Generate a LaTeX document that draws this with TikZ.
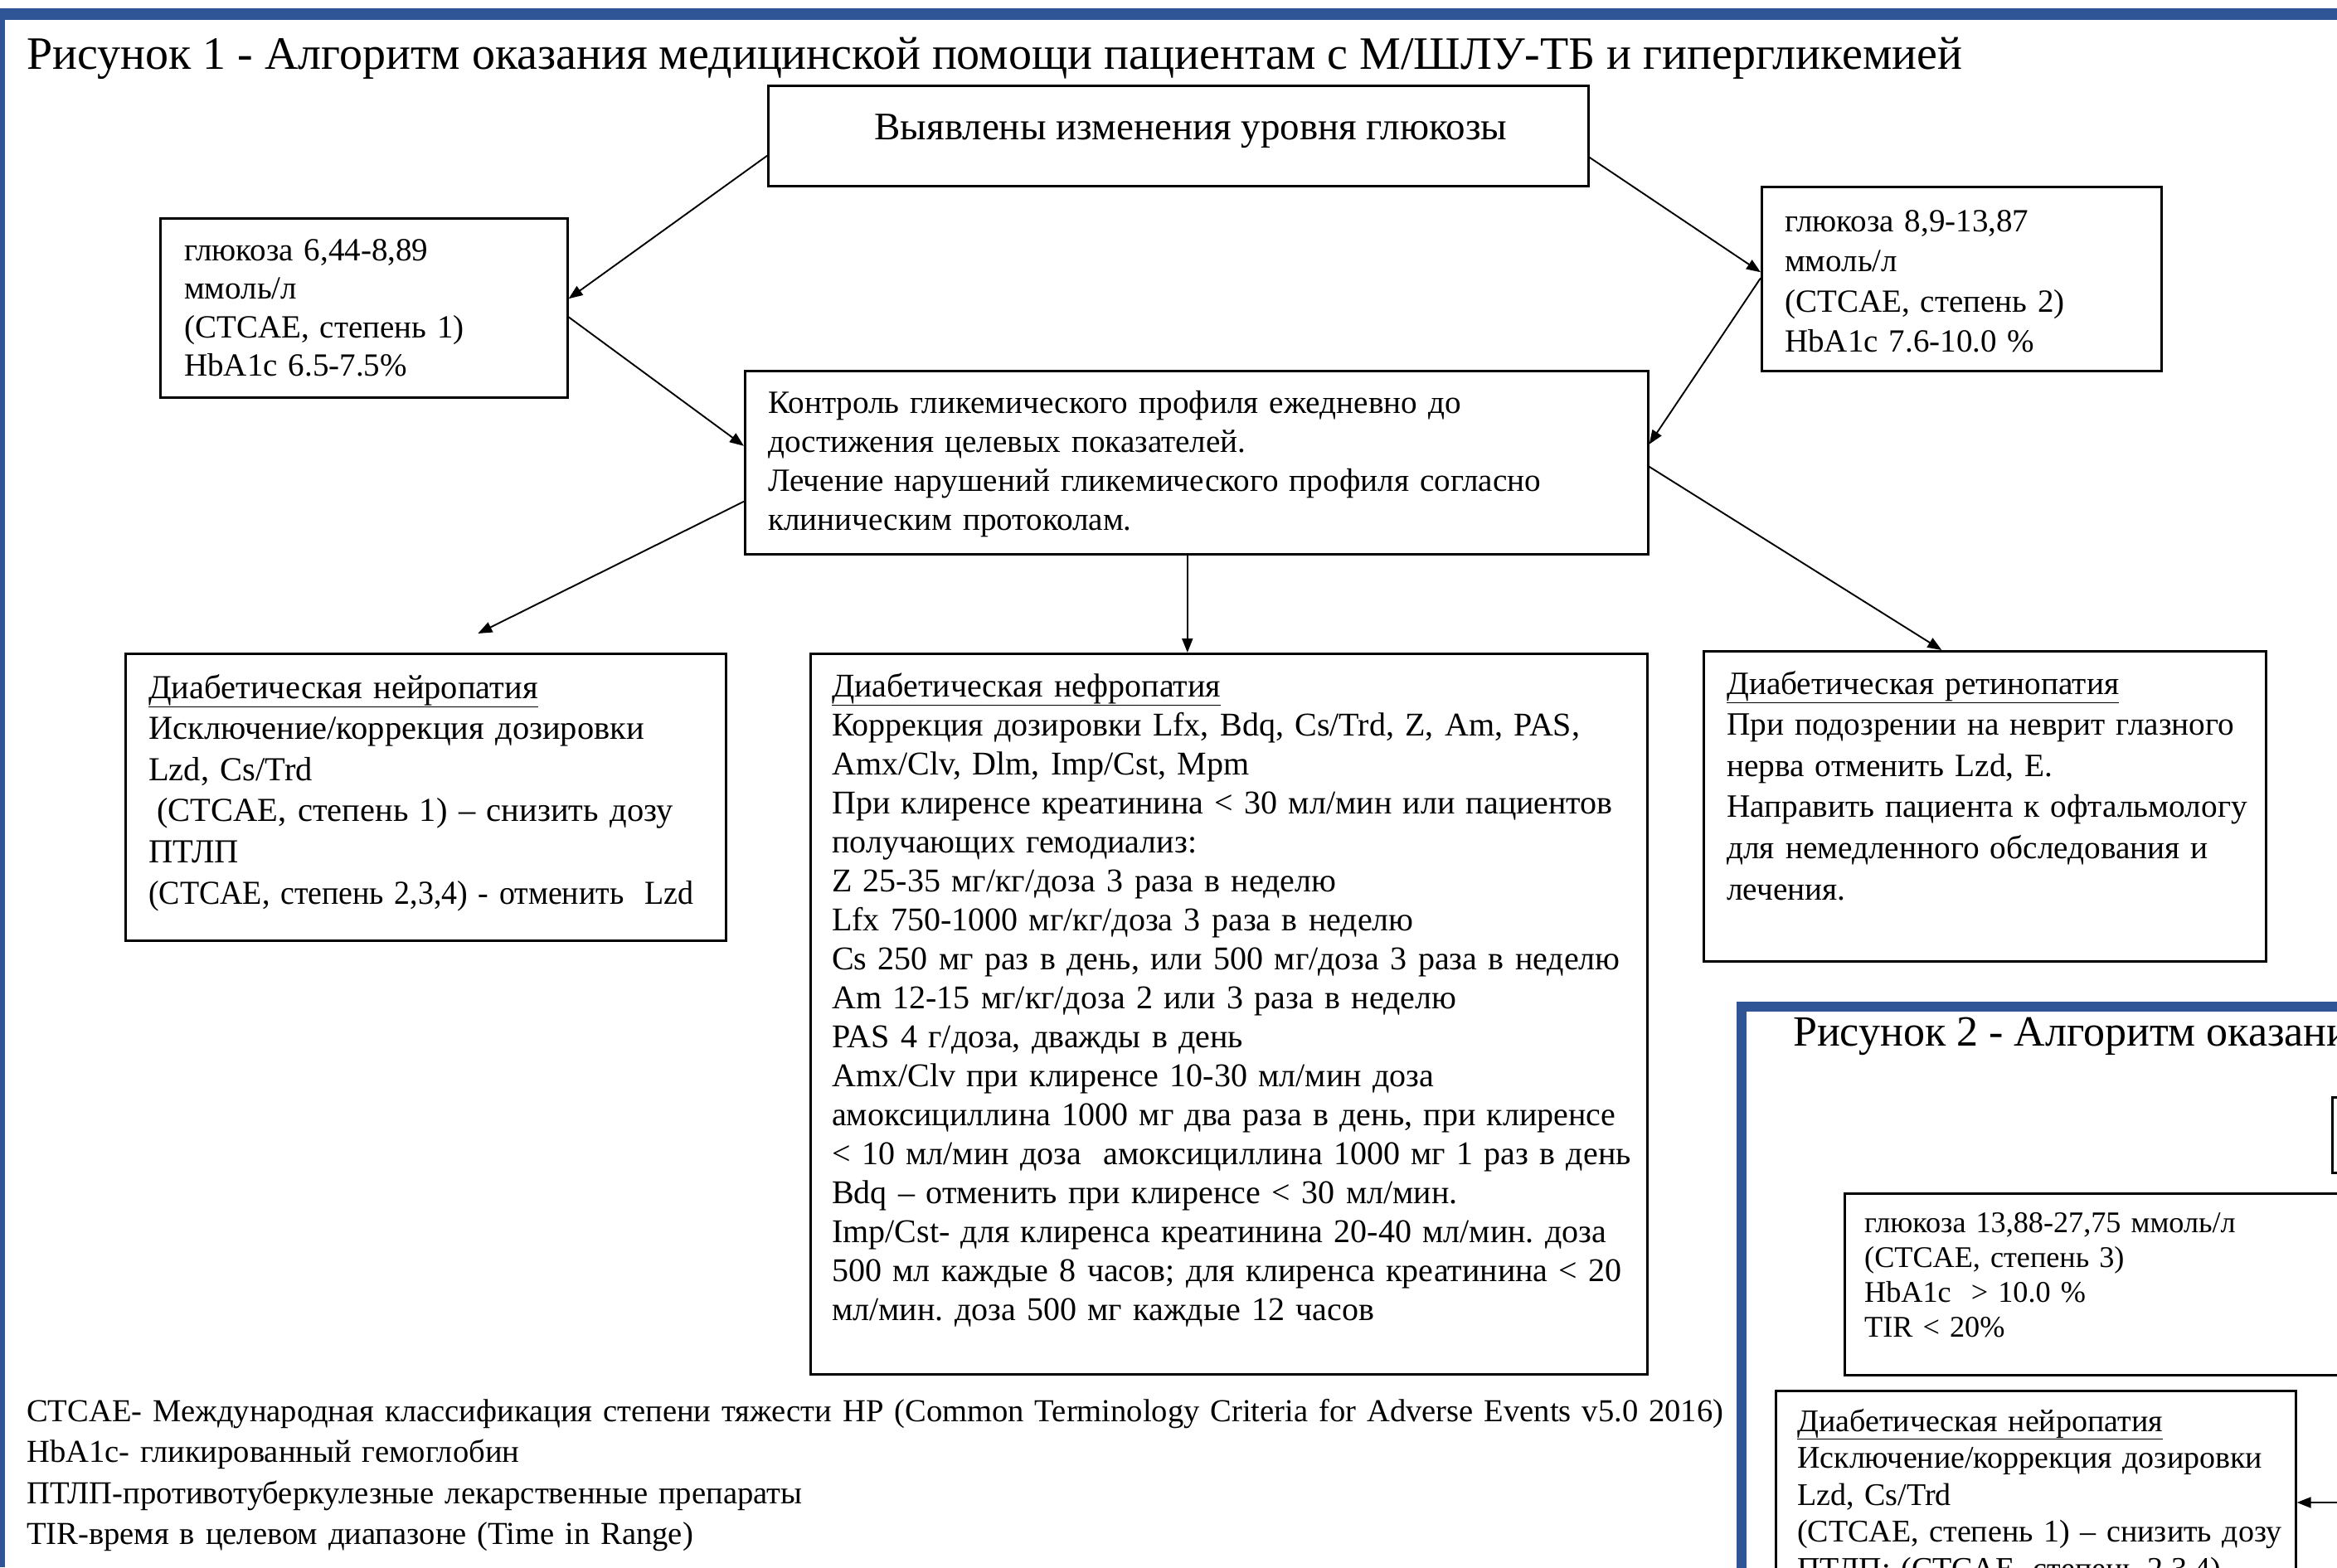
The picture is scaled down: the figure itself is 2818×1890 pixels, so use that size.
\documentclass[tikz,border=0pt]{standalone}
\usepackage{fontspec}
\setmainfont{Liberation Serif}
\usetikzlibrary{arrows.meta,calc}
\definecolor{frameblue}{HTML}{2F5597}
\tikzset{
  box/.style={draw, line width=2.6pt, inner sep=0pt, anchor=north west},
  arr/.style={line width=1.9pt, -{Triangle[length=17pt,width=13pt]}},
  txt/.style={anchor=base west, inner sep=0pt, text width=2400pt, align=left},
  ftitle/.style={font={\fontsize{56}{66}\selectfont}},
  ftop/.style={font={\fontsize{47}{56}\selectfont}},
}
\begin{document}
\frenchspacing
\begin{tikzpicture}[x=1pt,y=-1pt]
\useasboundingbox (0,0) rectangle (2818,1890);
\clip (0,0) rectangle (2818,1890);
\fill[white] (0,0) rectangle (2818,1890);
% blue frame of figure 1
\fill[frameblue] (0,10) rectangle (2818,24);
\fill[frameblue] (0,10) rectangle (6,1890);

% title
\node[anchor=base west, inner sep=0pt, ftitle] (title) at (32,83) {Рисунок 1 - Алгоритм оказания медицинской помощи пациентам с М/ШЛУ-ТБ и гипергликемией};

% boxes
\node[box, minimum width=989pt, minimum height=121pt] (topbox) at (925,102) {};
\node[box, minimum width=491pt, minimum height=216pt] (g1) at (192,262) {};
\node[box, minimum width=482pt, minimum height=222pt] (g2) at (2123,224) {};
\node[box, minimum width=1089pt, minimum height=221pt] (ctrl) at (897,446) {};
\node[box, minimum width=724pt, minimum height=346pt] (neuro) at (150,787) {};
\node[box, minimum width=1009pt, minimum height=869pt] (neph) at (976,787) {};
\node[box, minimum width=678pt, minimum height=374pt] (retino) at (2053,784) {};

% texts
\node[anchor=base, inner sep=0pt, ftop] (topT) at (1436,168) {Выявлены изменения уровня глюкозы};

\node[txt, font={\fontsize{39}{46.6}\selectfont}] (g1T) at (222,314)
{глюкоза 6,44-8,89\\ммоль/л\\(CTCAE, степень 1)\\HbA1c 6.5-7.5\%};

\node[txt, font={\fontsize{39}{48.5}\selectfont}] (g2T) at (2152,279)
{глюкоза 8,9-13,87\\ммоль/л\\(CTCAE, степень 2)\\HbA1c 7.6-10.0 \%};

\node[txt, font={\fontsize{39.2}{47}\selectfont}] (ctrlT) at (926,498)
{Контроль гликемического профиля ежедневно до\\достижения целевых показателей.\\Лечение нарушений гликемического профиля согласно\\клиническим протоколам.};

\node[txt, font={\fontsize{40.5}{49.6}\selectfont}] (neuroT) at (179,842)
{\underline{Диабетическая нейропатия}\\Исключение/коррекция дозировки\\Lzd, Cs/Trd\\\hspace*{10pt}(CTCAE, степень 1) – снизить дозу\\ПТЛП\\\scalebox{0.936}[1]{(CTCAE, степень 2,3,4) - отменить\ \ Lzd}};

\node[txt, font={\fontsize{40}{47.06}\selectfont}] (nephT) at (1003,840)
{\underline{Диабетическая нефропатия}\\
Коррекция дозировки Lfx, Bdq, Cs/Trd, Z, Am, PAS,\\
Amx/Clv, Dlm, Imp/Cst, Mpm\\
При клиренсе креатинина < 30 мл/мин или пациентов\\
получающих гемодиализ:\\
Z 25-35 мг/кг/доза 3 раза в неделю\\
Lfx 750-1000 мг/кг/доза 3 раза в неделю\\
Cs 250 мг раз в день, или 500 мг/доза 3 раза в неделю\\
Am 12-15 мг/кг/доза 2 или 3 раза в неделю\\
PAS 4 г/доза, дважды в день\\
Amx/Clv при клиренсе 10-30 мл/мин доза\\
амоксициллина 1000 мг два раза в день, при клиренсе\\
< 10 мл/мин доза\ \ амоксициллина 1000 мг 1 раз в день\\
Bdq – отменить при клиренсе < 30 мл/мин.\\
Imp/Cst- для клиренса креатинина 20-40 мл/мин. доза\\
500 мл каждые 8 часов; для клиренса креатинина < 20\\
мл/мин. доза 500 мг каждые 12 часов};

\node[txt, font={\fontsize{39.3}{49.6}\selectfont}] (retinoT) at (2082,837)
{\underline{Диабетическая ретинопатия}\\
\makebox[622pt][s]{При подозрении на неврит глазного}\\
нерва отменить Lzd, E.\\
\makebox[622pt][s]{Направить пациента к офтальмологу}\\
\makebox[622pt][s]{для немедленного обследования и}\\
лечения.};

\node[txt, font={\fontsize{38.6}{49.5}\selectfont}] (legend) at (32,1714)
{CTCAE- Международная классификация степени тяжести НР (Common Terminology Criteria for Adverse Events v5.0 2016)\\
HbA1c- гликированный гемоглобин\\
ПТЛП-противотуберкулезные лекарственные препараты\\
TIR-время в целевом диапазоне (Time in Range)};

% arrows figure 1
\draw[arr] ([yshift=-24pt]topbox.west) -- ([yshift=11pt]g1.east);
\draw[arr] ([yshift=-26pt]topbox.east) -- ([yshift=8pt]g2.west);
\draw[arr] ([yshift=-11pt]g1.east) -- ([yshift=20pt]ctrl.west);
\draw[arr] ([yshift=1pt]g2.west) -- ([yshift=22pt]ctrl.east);
\draw[arr] ([yshift=-47pt]ctrl.west) -- ([xshift=63pt,yshift=23pt]neuro.north);
\draw[arr] ([xshift=-11pt]ctrl.south) -- ([xshift=-11pt]ctrl.south |- neph.north);
\draw[arr] ([yshift=-5pt]ctrl.east) -- ([xshift=-52pt]retino.north);

% figure 2 (partly visible)
\fill[white] (2100,1214) rectangle (2900,1950);
\draw[frameblue, line width=12pt] (2100,1214) rectangle (3100,2100);
\node[anchor=base west, inner sep=0pt, font={\fontsize{52}{60}\selectfont}] (title2) at (2162,1261) {Рисунок 2 - Алгоритм оказания медицинской помощи};
\node[box, minimum width=200pt, minimum height=91pt] (f2top) at (2811,1322) {};
\node[box, minimum width=700pt, minimum height=219pt] (g3) at (2223,1438) {};
\node[box, minimum width=627pt, minimum height=424pt] (neuro2) at (2140,1676) {};
\node[txt, font={\fontsize{36.2}{42}\selectfont}] (g3T) at (2248,1486)
{глюкоза 13,88-27,75 ммоль/л\\(CTCAE, степень 3)\\HbA1c\ \ > 10.0 \%\\TIR < 20\%};
\node[txt, font={\fontsize{38}{44.5}\selectfont}] (neuro2T) at (2167,1726)
{\underline{Диабетическая нейропатия}\\Исключение/коррекция дозировки\\Lzd, Cs/Trd\\(CTCAE, степень 1) – снизить дозу\\ПТЛП; (CTCAE, степень 2,3,4)};
\coordinate (a8s) at (2900,1812);
\draw[arr] (a8s) -- (a8s -| neuro2.east);
\end{tikzpicture}
\end{document}
